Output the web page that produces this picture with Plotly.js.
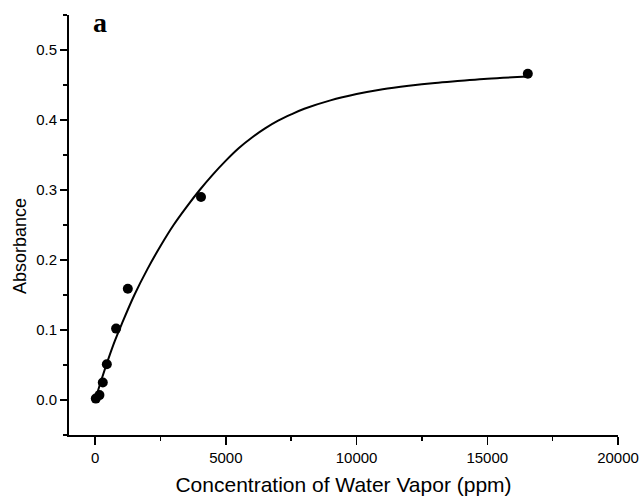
<!DOCTYPE html>
<html>
<head>
<meta charset="utf-8">
<script src="https://cdn.plot.ly/plotly-3.0.1.min.js"></script>
<style>html,body{margin:0;padding:0;background:#fff;}#chart{width:642px;height:500px;}</style>
</head>
<body>
<div id="chart"></div>
<script>
// Measured points
const concentration = [25, 165, 293, 447, 802, 1250, 4050, 16550];
const absorbance = [0.002, 0.007, 0.025, 0.051, 0.102, 0.159, 0.290, 0.466];

// Fitted curve
const curveX = [0, 250, 500, 750, 1000, 1500, 2000, 2500, 3000, 3500, 4000, 4500, 5000, 5500, 6000, 6500, 7000, 7500, 8000, 9000, 10000, 11000, 12000, 13000, 14000, 15000, 16550];
const curveY = [0.000, 0.030, 0.058, 0.084, 0.107, 0.150, 0.187, 0.220, 0.250, 0.276, 0.300, 0.322, 0.342, 0.360, 0.375, 0.388, 0.399, 0.408, 0.416, 0.428, 0.437, 0.444, 0.449, 0.453, 0.456, 0.459, 0.462];

const xTicks = [0, 5000, 10000, 15000, 20000];
const yTicks = [0.0, 0.1, 0.2, 0.3, 0.4, 0.5];
const yTickText = ['0.0', '0.1', '0.2', '0.3', '0.4', '0.5'];

const traces = [
  {
    x: curveX, y: curveY, type: 'scatter', mode: 'lines',
    line: {color: '#000', width: 2, shape: 'spline', smoothing: 1},
    hoverinfo: 'skip', showlegend: false
  },
  {
    x: concentration, y: absorbance, type: 'scatter', mode: 'markers',
    marker: {color: '#000', size: 10, symbol: 'circle'},
    showlegend: false
  }
];

const axisFont = {family: 'Liberation Sans, Arial, sans-serif', size: 15, color: '#000'};

const layout = {
  width: 642, height: 500,
  margin: {l: 69, r: 24, t: 15, b: 65},
  paper_bgcolor: '#fff', plot_bgcolor: '#fff',
  xaxis: {
    range: [-1000, 20000],
    tickmode: 'array', tickvals: xTicks, ticktext: xTicks.map(String),
    ticks: 'outside', ticklen: 8, tickwidth: 1.5, tickcolor: '#000',
    minor: {dtick: 2500, tick0: 0, ticks: 'outside', ticklen: 4, tickwidth: 1.5, tickcolor: '#000'},
    showline: true, linecolor: '#000', linewidth: 2,
    showgrid: false, zeroline: false,
    tickfont: axisFont,
    title: {text: 'Concentration of Water Vapor (ppm)', font: {family: 'Liberation Sans, Arial, sans-serif', size: 21, color: '#000'}, standoff: 12}
  },
  yaxis: {
    range: [-0.05, 0.55],
    tickmode: 'array', tickvals: yTicks, ticktext: yTickText,
    ticks: 'outside', ticklen: 7, tickwidth: 1.5, tickcolor: '#000',
    minor: {dtick: 0.05, tick0: 0, ticks: 'outside', ticklen: 4, tickwidth: 1.5, tickcolor: '#000'},
    showline: true, linecolor: '#000', linewidth: 2,
    showgrid: false, zeroline: false,
    tickfont: axisFont
  },
  annotations: [
    {
      text: '<b>a</b>', xref: 'paper', yref: 'paper', x: 0.04, y: 1.025,
      xanchor: 'left', yanchor: 'top', showarrow: false,
      font: {family: 'Liberation Serif, Times New Roman, serif', size: 28, color: '#000'}
    },
    {
      text: 'Absorbance', xref: 'paper', yref: 'paper', x: 0, xshift: -49, y: 0.45,
      xanchor: 'center', yanchor: 'middle', textangle: -90, showarrow: false,
      font: {family: 'Liberation Sans, Arial, sans-serif', size: 18, color: '#000'}
    }
  ]
};

Plotly.newPlot('chart', traces, layout, {displayModeBar: false, staticPlot: true});
</script>
</body>
</html>
